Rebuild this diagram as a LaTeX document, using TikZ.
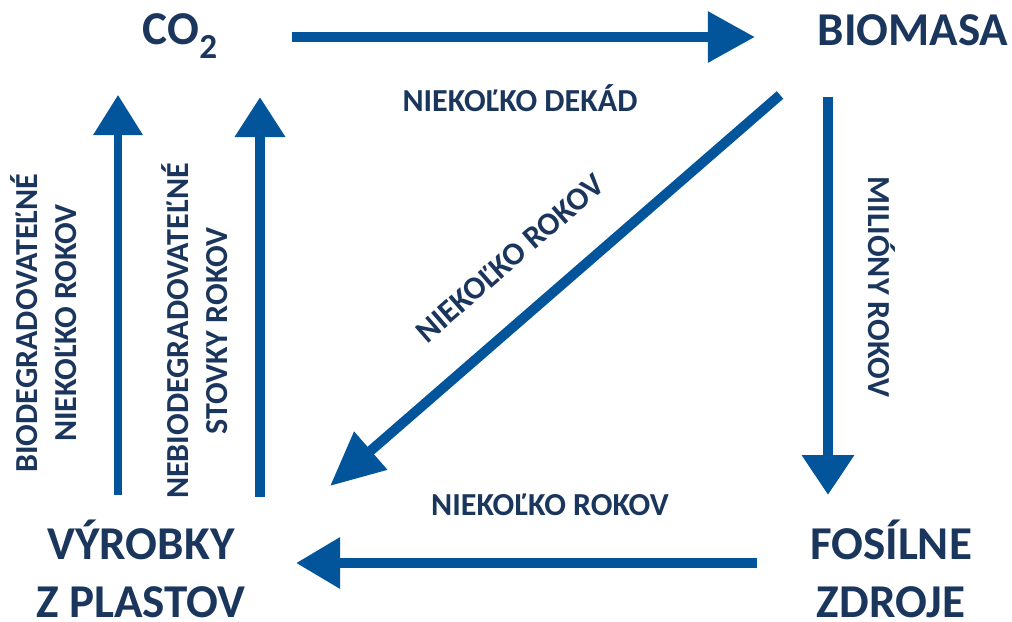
\documentclass[tikz,border=0pt]{standalone}
\usepackage{fontspec}
\setmainfont{Carlito}
\usetikzlibrary{arrows.meta}
\definecolor{cycleblue}{HTML}{02559A}
\definecolor{labelnavy}{HTML}{1B365D}

\begin{document}
\begin{tikzpicture}[
x=0.025cm, y=-0.025cm,
stage/.style={inner sep=0pt, align=center, text=labelnavy, font=\fontsize{33.5}{41.5}\selectfont\bfseries},
period/.style={inner sep=0pt, align=center, text=labelnavy, font=\fontsize{22.8}{27.7}\selectfont\bfseries},
arrow/.style={-{Triangle[length=1.15cm, width=1.22cm]}, line width=7.1pt, cycleblue},
thin arrow/.style={arrow, line width=5pt}
]
\useasboundingbox (0,0) rectangle (1012,621);

% stages of the cycle
\node[stage] (co2) at (180,36) {CO\raisebox{-10.5pt}{\fontsize{25}{25}\selectfont 2}};
\node[stage] (bio) at (913,30) {BIOMASA};
\node[stage] (vyr) at (141,569) {VÝROBKY\\Z PLASTOV};
\node[stage] (fos) at (891,569) {FOSÍLNE\\ZDROJE};

% time labels
\node[period] (dekad) at (520,98) {NIEKOĽKO DEKÁD};
\node[period] (rokdole) at (550,505) {NIEKOĽKO ROKOV};
\node[period, rotate=-90] (milion) at (882,287) {MILIÓNY ROKOV};
\node[period, rotate=41] (rokdiag) at (510,258) {NIEKOĽKO ROKOV};
\node[period, rotate=90] (bioplast) at (44,323) {BIODEGRADOVATEĽNÉ\\NIEKOĽKO ROKOV};
\node[period, rotate=90] (nebioplast) at (195,331) {NEBIODEGRADOVATEĽNÉ\\STOVKY ROKOV};

% arrows
\draw[arrow, -{Triangle[length=1.18cm, width=1.22cm]}] ([shift={(112,1)}]co2.center) -- ([shift={(-158,7)}]bio.center);
\draw[arrow, -{Triangle[length=1.35cm, width=1.2cm]}] ([shift={(-133,65)}]bio.center) -- ([shift={(189,-83)}]vyr.center);
\draw[arrow, -{Triangle[length=1cm, width=1.25cm]}] ([shift={(-85,67)}]bio.center) -- ([shift={(-63,-74)}]fos.center);
\draw[arrow, -{Triangle[length=1.1cm, width=1.22cm]}] ([shift={(-134,-6)}]fos.center) -- ([shift={(155,-6)}]vyr.center);
\draw[thin arrow, -{Triangle[length=1cm, width=1.2cm]}] ([shift={(-23,-74)}]vyr.center) -- ([shift={(-62,59)}]co2.center);
\draw[arrow, -{Triangle[length=1cm, width=1.2cm]}] ([shift={(119,-72)}]vyr.center) -- ([shift={(80,61)}]co2.center);
\end{tikzpicture}
\end{document}
